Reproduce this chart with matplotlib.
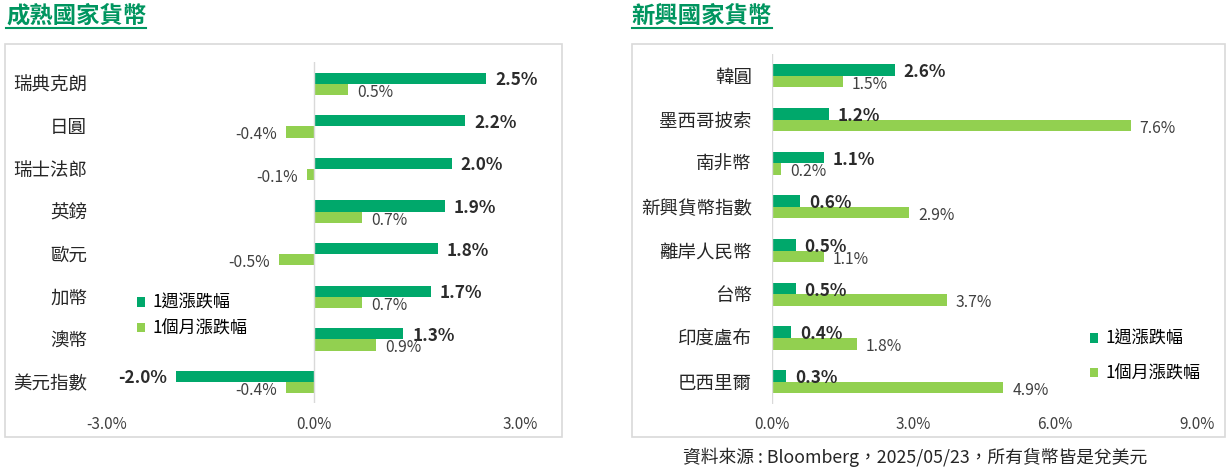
import numpy as np
import matplotlib
matplotlib.use('Agg')
from matplotlib import pyplot as plt
from matplotlib.patches import Rectangle
from matplotlib.lines import Line2D

plt.rcParams['font.family'] = ['Noto Sans CJK TC', 'DejaVu Sans']

# data
mature_names = ['瑞典克朗', '日圓', '瑞士法郎', '英鎊', '歐元', '加幣', '澳幣', '美元指數']
mature_week = [2.5, 2.2, 2.0, 1.9, 1.8, 1.7, 1.3, -2.0]
mature_month = [0.5, -0.4, -0.1, 0.7, -0.5, 0.7, 0.9, -0.4]

emerging_names = ['韓圓', '墨西哥披索', '南非幣', '新興貨幣指數', '離岸人民幣', '台幣', '印度盧布', '巴西里爾']
emerging_week = [2.6, 1.2, 1.1, 0.6, 0.5, 0.5, 0.4, 0.3]
emerging_month = [1.5, 7.6, 0.2, 2.9, 1.1, 3.7, 1.8, 4.9]

series_names = ['1週漲跌幅', '1個月漲跌幅']
titles = ['成熟國家貨幣', '新興國家貨幣']
source = '資料來源 : Bloomberg，2025/05/23，所有貨幣皆是兌美元'

WEEK_C = '#00a86b'
MONTH_C = '#92d050'
TITLE_C = '#00955f'
GRID_C = '#d9d9d9'
TEXT_C = '#262626'

W, H = 1227, 469
fig = plt.figure(figsize=(W / 100, H / 100), dpi=100)


def px_box(x0, y0, x1, y1):
    # pixel box (top-left origin) -> figure fraction rect
    return [x0 / W, 1 - y1 / H, (x1 - x0) / W, (y1 - y0) / H]


def draw_panel(rect, names, week, month, xlim, ticks, leg_anchor, leg_space):
    ax = fig.add_axes(rect)
    y = np.arange(len(names))
    bh = 0.265
    b1 = ax.barh(y - bh / 2, week, height=bh, color=WEEK_C, label=series_names[0])
    b2 = ax.barh(y + bh / 2, month, height=bh, color=MONTH_C, label=series_names[1])
    ax.set_xlim(*xlim)
    ax.set_ylim(len(names) - 0.5, -0.5)
    ax.axvline(0, color=GRID_C, lw=1)
    for s in ax.spines.values():
        s.set_visible(False)
    ax.set_yticks(y)
    ax.set_yticklabels(names, fontsize=13.3, color=TEXT_C, fontweight='medium')
    ax.set_xticks(ticks)
    ax.set_xticklabels(['%.1f%%' % t for t in ticks], fontsize=11, color='#404040')
    ax.tick_params(axis='y', length=0, pad=14.5)
    ax.tick_params(axis='x', length=0, pad=9)

    for yi, v in zip(y, week):
        ax.annotate('%.1f%%' % v, (v, yi - bh / 2), xytext=(6.5 if v >= 0 else -6.5, -1.5),
                    textcoords='offset points', ha='left' if v >= 0 else 'right',
                    va='center', fontsize=12.4, color='#2b2b2b', fontweight='semibold')
    for yi, v in zip(y, month):
        ax.annotate('%.1f%%' % v, (v, yi + bh / 2), xytext=(6.5 if v >= 0 else -6.5, -2),
                    textcoords='offset points', ha='left' if v >= 0 else 'right',
                    va='center', fontsize=11.3, color='#404040')

    ax.legend(handles=[b1, b2], loc='upper left', bbox_to_anchor=leg_anchor,
              bbox_transform=fig.transFigure, frameon=False, fontsize=12.3,
              handlelength=0.46, handleheight=0.46, handletextpad=0.45,
              labelspacing=leg_space, borderaxespad=0, borderpad=0)
    return ax


draw_panel(px_box(107.1, 62.5, 520.4, 403.3), mature_names, mature_week, mature_month,
           (-3, 3), [-3, 0, 3], (136.7 / W, 1 - 294 / H), 0.45)
draw_panel(px_box(772, 54, 1196.7, 403.5), emerging_names, emerging_week, emerging_month,
           (0, 9), [0, 3, 6, 9], (1090.4 / W, 1 - 330 / H), 0.95)

# chart frames
for x0, x1 in [(5.4, 562.3), (631.7, 1224.7)]:
    fig.add_artist(Rectangle((x0 / W, 1 - 436.7 / H), (x1 - x0) / W, (436.7 - 44.3) / H,
                             transform=fig.transFigure, fill=False, ec=GRID_C, lw=1.2))

# titles with underline
for tx, t in zip([6.4, 631.6], titles):
    fig.text(tx / W, 1 - 15.5 / H, t, fontsize=16.8, fontweight='bold',
             color=TITLE_C, ha='left', va='center')
    fig.add_artist(Line2D([tx / W, (tx + 140) / W], [1 - 28.5 / H] * 2,
                          transform=fig.transFigure, color=TITLE_C, lw=1.5))

fig.text(915 / W, 1 - 457 / H, source, fontsize=12.8, color=TEXT_C,
         ha='center', va='center')

fig.savefig('out.png', dpi=100, facecolor='white')
